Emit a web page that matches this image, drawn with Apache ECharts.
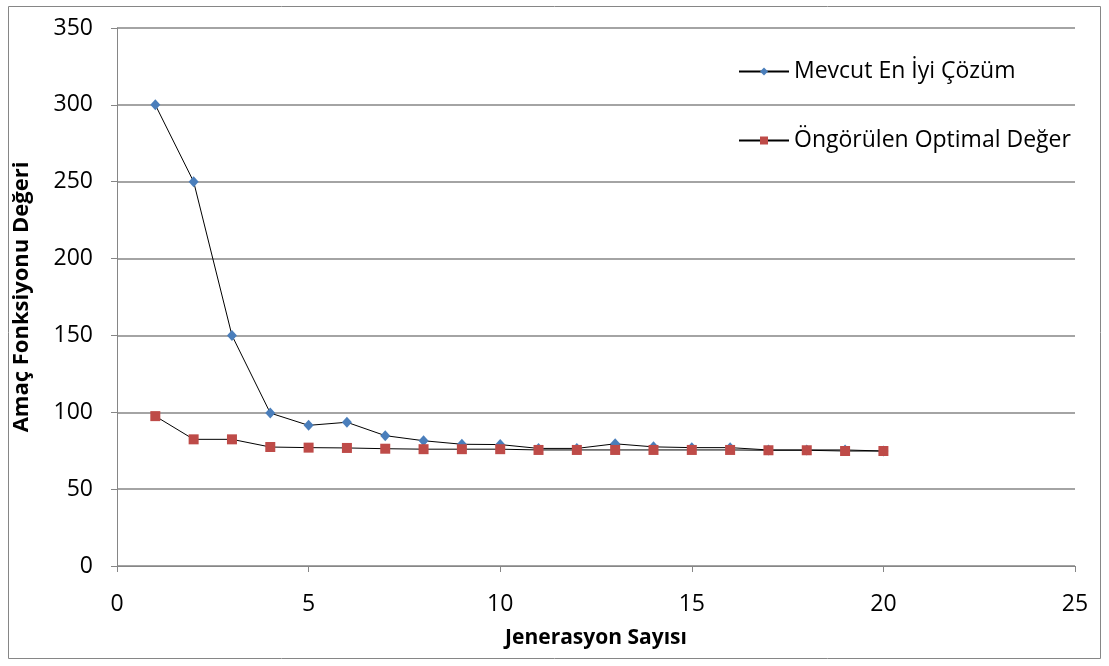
<!DOCTYPE html>
<html>
<head>
<meta charset="utf-8">
<style>
  html, body { margin: 0; padding: 0; background: #ffffff; }
  #chart { width: 1109px; height: 666px; }
</style>
<script src="https://cdn.jsdelivr.net/npm/echarts@6/dist/echarts.min.js"></script>
</head>
<body>
<div id="chart"></div>
<script>
// Generation numbers
const generations = [1, 2, 3, 4, 5, 6, 7, 8, 9, 10, 11, 12, 13, 14, 15, 16, 17, 18, 19, 20];
// Best solution found so far at each generation
const currentBest = [300, 250, 150, 99.5, 91.5, 93.5, 84.8, 81.5, 79.2, 79, 76.5, 76.5, 79.5, 77.5, 77, 77, 75.5, 75.5, 75.5, 74.8];
// Predicted optimal value at each generation
const predictedOptimal = [97.5, 82.4, 82.4, 77.4, 77, 76.8, 76.3, 76, 76, 76, 75.5, 75.5, 75.5, 75.5, 75.5, 75.5, 75.3, 75.3, 74.8, 74.8];

const seriesNames = ['Mevcut En İyi Çözüm', 'Öngörülen Optimal Değer'];
const xAxisTitle = 'Jenerasyon Sayısı';
const yAxisTitle = 'Amaç Fonksiyonu Değeri';

const FONT = 'Open Sans';
const AXIS_GRAY = '#868686';

const chart = echarts.init(document.getElementById('chart'), null, { renderer: 'canvas' });

const toPairs = (ys) => generations.map((g, i) => [g, ys[i]]);

chart.setOption({
  backgroundColor: '#ffffff',
  animation: false,
  textStyle: { fontFamily: FONT },
  graphic: [{
    type: 'rect',
    shape: { x: 8.5, y: 6.5, width: 1092, height: 652 },
    style: { fill: 'none', stroke: AXIS_GRAY, lineWidth: 1 },
    silent: true
  }],
  grid: { left: 117, top: 28, right: 34, bottom: 100 },
  legend: {
    orient: 'vertical',
    left: 733,
    top: 55,
    itemGap: 46,
    itemWidth: 50,
    itemHeight: 10,
    textStyle: { fontFamily: FONT, fontSize: 23, color: '#000000', padding: [0, 0, 0, 0] },
    data: seriesNames
  },
  xAxis: {
    type: 'value',
    min: 0, max: 25, interval: 5,
    name: xAxisTitle,
    nameLocation: 'middle',
    nameGap: 62,
    nameTextStyle: { fontFamily: FONT, fontSize: 21, fontWeight: 'bold', color: '#000000' },
    axisLine: { show: true, lineStyle: { color: AXIS_GRAY, width: 1 } },
    axisTick: { show: true, length: 6, lineStyle: { color: AXIS_GRAY } },
    axisLabel: { fontFamily: FONT, fontSize: 23, color: '#000000', margin: 27 },
    splitLine: { show: false }
  },
  yAxis: {
    type: 'value',
    min: 0, max: 350, interval: 50,
    name: yAxisTitle,
    nameLocation: 'middle',
    nameGap: 84,
    nameRotate: 90,
    nameTextStyle: { fontFamily: FONT, fontSize: 22, fontWeight: 'bold', color: '#000000' },
    axisLine: { show: true, lineStyle: { color: AXIS_GRAY, width: 1 } },
    axisTick: { show: true, length: 6, lineStyle: { color: AXIS_GRAY } },
    axisLabel: { fontFamily: FONT, fontSize: 23, color: '#000000', margin: 24 },
    splitLine: { show: true, lineStyle: { color: AXIS_GRAY, width: 1.5 } }
  },
  series: [
    {
      name: seriesNames[0],
      type: 'line',
      data: toPairs(currentBest),
      symbol: 'diamond',
      symbolSize: [10, 11],
      itemStyle: { color: '#4a7ebb' },
      lineStyle: { color: '#000000', width: 1 },
      z: 3
    },
    {
      name: seriesNames[1],
      type: 'line',
      data: toPairs(predictedOptimal),
      symbol: 'rect',
      symbolSize: 10,
      itemStyle: { color: '#be4b48' },
      lineStyle: { color: '#000000', width: 1 },
      z: 4
    }
  ]
});
</script>
</body>
</html>
